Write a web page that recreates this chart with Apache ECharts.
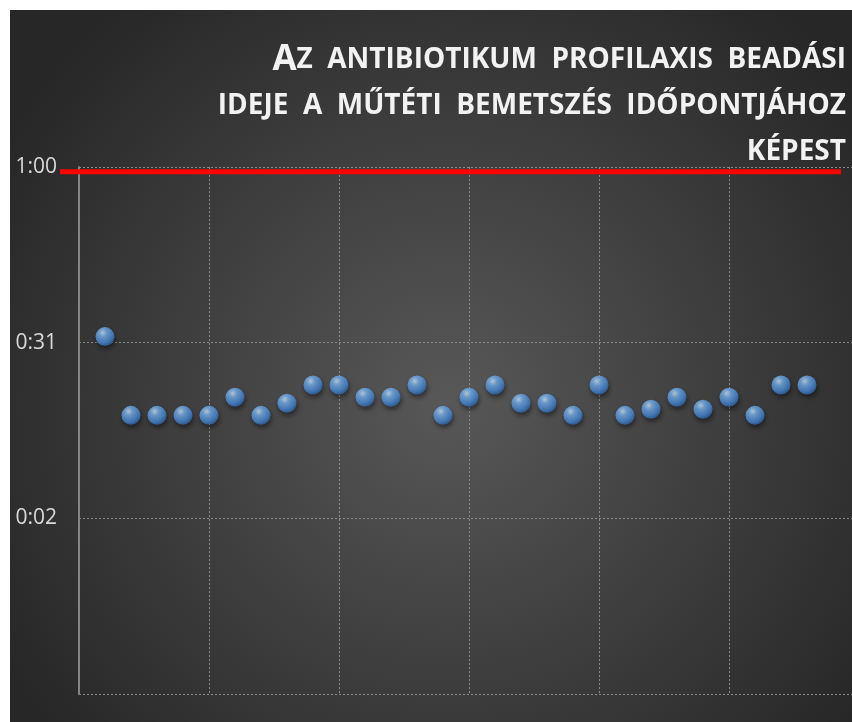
<!DOCTYPE html>
<html>
<head>
<meta charset="utf-8">
<script src="https://cdn.jsdelivr.net/npm/echarts@6/dist/echarts.min.js"></script>
<style>
  html, body { margin: 0; padding: 0; background: #ffffff; }
  #chart { position: absolute; left: 10px; top: 10px; width: 842px; height: 712px; }
</style>
</head>
<body>
<div id="chart"></div>
<script>
// Case sequence numbers and antibiotic timing before incision (minutes)
const caseNo = [1, 2, 3, 4, 5, 6, 7, 8, 9, 10, 11, 12, 13, 14, 15, 16, 17, 18, 19, 20, 21, 22, 23, 24, 25, 26, 27, 28];
const minutesBefore = [32, 19, 19, 19, 19, 22, 19, 21, 24, 24, 22, 22, 24, 19, 22, 24, 21, 21, 19, 24, 19, 20, 22, 20, 22, 19, 24, 24];

// Case axis: gridline every 5 cases, plot ends part-way past case 29
const xMax = 29.73;
const xStep = 5;

// Time axis (minutes): ticks at -0:27, 0:02, 0:31, 1:00
const yMin = -27;
const yMax = 60;
const yStep = 29;

// 60-minute limit line level
const limitLevel = 59.2;

// Title lines (small caps: a large initial, the rest in smaller capitals; wide word gaps)
const titleLines = [
  ['A', 'Z  ANTIBIOTIKUM  PROFILAXIS  BEADÁSI'],
  ['', 'IDEJE  A  MŰTÉTI  BEMETSZÉS  IDŐPONTJÁHOZ'],
  ['', 'KÉPEST']
];

function fmtTime(v) {
  if (v < 0) return '';
  const h = Math.floor(v / 60);
  const m = Math.round(v - h * 60);
  return h + ':' + (m < 10 ? '0' + m : m);
}

const titleText = titleLines
  .map(([cap, rest]) => (cap ? '{b|' + cap + '}' : '') + '{s|' + rest + '}')
  .join('\n');

const chart = echarts.init(document.getElementById('chart'), null, { renderer: 'canvas' });

const sphere = {
  type: 'radial', x: 0.38, y: 0.3, r: 0.75,
  colorStops: [
    { offset: 0, color: '#d2e7fb' },
    { offset: 0.28, color: '#78b3ee' },
    { offset: 0.7, color: '#4a8ad6' },
    { offset: 1, color: '#2a5f9e' }
  ]
};

const hiddenAxis = {
  show: false,
  axisLine: { show: false },
  axisTick: { show: false },
  axisLabel: { show: false },
  splitLine: { show: false }
};

const dotted = { color: '#8a8a8a', width: 1, type: [2, 2] };

chart.setOption({
  animation: false,
  backgroundColor: {
    type: 'radial', x: 0.52, y: 0.55, r: 0.72,
    colorStops: [
      { offset: 0, color: '#585858' },
      { offset: 1, color: '#272727' }
    ]
  },
  graphic: {
    elements: [{
      type: 'text',
      x: 836,
      y: 27,
      style: {
        text: titleText,
        align: 'right',
        verticalAlign: 'top',
        fill: '#f2f2f2',
        fontFamily: 'Open Sans',
        fontWeight: 'bold',
        fontSize: 28,
        lineHeight: 46,
        rich: {
          b: { fontFamily: 'Open Sans', fontWeight: 'bold', fontSize: 35, fill: '#f2f2f2', lineHeight: 46, align: 'right' },
          s: { fontFamily: 'Open Sans', fontWeight: 'bold', fontSize: 28, fill: '#f2f2f2', lineHeight: 46, align: 'right' }
        }
      }
    }]
  },
  grid: [
    { left: 69, top: 157, right: 0, bottom: 28 },
    { left: 50, top: 157, right: 11, bottom: 28 }
  ],
  xAxis: [
    {
      type: 'value',
      gridIndex: 0,
      min: 0,
      max: xMax,
      interval: xStep,
      axisLine: { show: false },
      axisTick: { show: false },
      axisLabel: { show: false },
      splitLine: { show: true, showMaxLine: false, lineStyle: dotted }
    },
    Object.assign({ type: 'value', gridIndex: 1, min: 0, max: 1 }, hiddenAxis)
  ],
  yAxis: [
    {
      type: 'value',
      gridIndex: 0,
      min: yMin,
      max: yMax,
      interval: yStep,
      axisLine: { show: true, lineStyle: { color: '#858585', width: 2 } },
      axisTick: { show: false },
      axisLabel: {
        formatter: fmtTime,
        color: '#d9d9d9',
        fontFamily: 'Open Sans',
        fontSize: 21,
        margin: 22
      },
      splitLine: { show: true, lineStyle: dotted }
    },
    Object.assign({ type: 'value', gridIndex: 1, min: yMin, max: yMax }, hiddenAxis)
  ],
  series: [
    {
      type: 'line',
      xAxisIndex: 1,
      yAxisIndex: 1,
      data: [[0, limitLevel], [1, limitLevel]],
      symbol: 'none',
      clip: false,
      lineStyle: { color: '#ff0000', width: 5, cap: 'butt' },
      z: 3
    },
    {
      type: 'scatter',
      xAxisIndex: 0,
      yAxisIndex: 0,
      data: caseNo.map((c, i) => [c, minutesBefore[i]]),
      symbolSize: 19,
      itemStyle: {
        color: sphere,
        shadowColor: 'rgba(0,0,0,0.6)',
        shadowBlur: 5,
        shadowOffsetX: 1,
        shadowOffsetY: 3
      },
      z: 4
    }
  ]
});
</script>
</body>
</html>
